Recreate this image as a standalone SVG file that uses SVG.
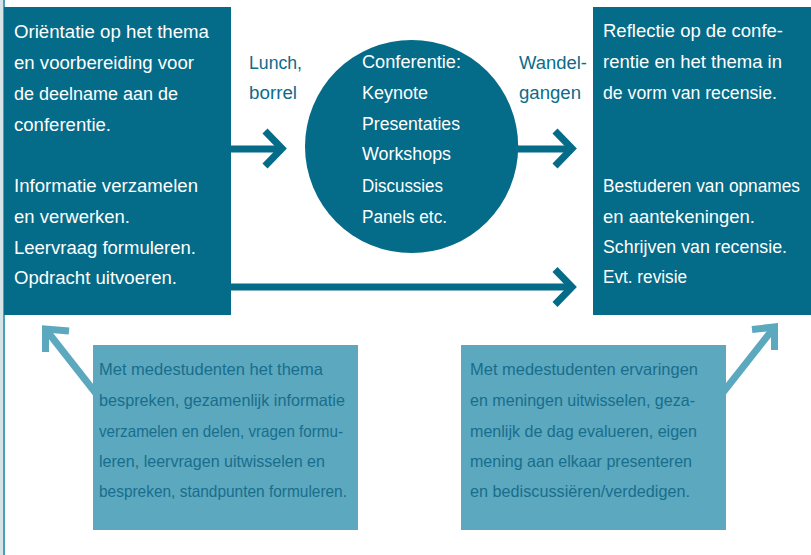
<svg xmlns="http://www.w3.org/2000/svg" width="811" height="555" viewBox="0 0 811 555">
<style>
.dark{fill:#046b88}
.light{fill:#5ca8bf}
.wt{font-family:"Liberation Sans",Arial,sans-serif;font-size:18.7px;fill:#ffffff}
.tt{font-family:"Liberation Sans",Arial,sans-serif;font-size:18.7px;fill:#0b6c8a}
.bt{font-family:"Liberation Sans",Arial,sans-serif;font-size:16.5px;fill:#186e8c}
.ad{fill:none;stroke:#046b88;stroke-width:7;stroke-linejoin:miter;stroke-miterlimit:10}
.al{fill:none;stroke:#5ca8bf;stroke-width:7;stroke-linejoin:miter;stroke-miterlimit:10}
</style>
<rect x="0" y="0" width="811" height="555" fill="#ffffff"/>
<rect x="0" y="0" width="3" height="555" fill="#d6e3e7"/>
<rect x="3" y="0" width="2" height="555" fill="#4c9fb8"/>

<g id="connectors">
  <path class="ad" d="M231 149 H283"/>
  <path class="ad" d="M265 131 L282 148.5 L265 166"/>
  <path class="ad" d="M517 149 H573"/>
  <path class="ad" d="M555 131 L572 148.5 L555 166"/>
  <path class="ad" d="M231 287 H573"/>
  <path class="ad" d="M555 269.5 L572 287 L555 304.5"/>
  <path class="al" d="M98 396 L47 331"/>
  <path class="al" d="M45.5 352 L45.5 329 L69 331"/>
  <path class="al" d="M721 395 L773 329"/>
  <path class="al" d="M752 329.5 L774.5 327 L774.5 350"/>
</g>

<g id="node-orientatie">
  <rect class="dark" x="4" y="7" width="227" height="308"/>
  <text class="wt" x="14" y="38" textLength="195" lengthAdjust="spacingAndGlyphs">Oriëntatie op het thema</text>
  <text class="wt" x="14" y="69" textLength="180" lengthAdjust="spacingAndGlyphs">en voorbereiding voor</text>
  <text class="wt" x="14" y="100" textLength="164" lengthAdjust="spacingAndGlyphs">de deelname aan de</text>
  <text class="wt" x="14" y="131" textLength="97" lengthAdjust="spacingAndGlyphs">conferentie.</text>
  <text class="wt" x="14" y="192" textLength="184" lengthAdjust="spacingAndGlyphs">Informatie verzamelen</text>
  <text class="wt" x="14" y="223" textLength="116" lengthAdjust="spacingAndGlyphs">en verwerken.</text>
  <text class="wt" x="14" y="254" textLength="182" lengthAdjust="spacingAndGlyphs">Leervraag formuleren.</text>
  <text class="wt" x="14" y="284" textLength="163" lengthAdjust="spacingAndGlyphs">Opdracht uitvoeren.</text>
</g>

<g id="label-lunch">
  <text class="tt" x="249" y="69" textLength="53" lengthAdjust="spacingAndGlyphs">Lunch,</text>
  <text class="tt" x="249" y="99" textLength="48" lengthAdjust="spacingAndGlyphs">borrel</text>
</g>

<g id="node-conferentie">
  <circle class="dark" cx="411.6" cy="146.5" r="106.6"/>
  <text class="wt" x="362" y="68" textLength="99" lengthAdjust="spacingAndGlyphs">Conferentie:</text>
  <text class="wt" x="362" y="99" textLength="66" lengthAdjust="spacingAndGlyphs">Keynote</text>
  <text class="wt" x="362" y="130" textLength="98" lengthAdjust="spacingAndGlyphs">Presentaties</text>
  <text class="wt" x="362" y="160" textLength="89" lengthAdjust="spacingAndGlyphs">Workshops</text>
  <text class="wt" x="362" y="192" textLength="81" lengthAdjust="spacingAndGlyphs">Discussies</text>
  <text class="wt" x="362" y="223" textLength="85" lengthAdjust="spacingAndGlyphs">Panels etc.</text>
</g>

<g id="label-wandelgangen">
  <text class="tt" x="519" y="69" textLength="68" lengthAdjust="spacingAndGlyphs">Wandel-</text>
  <text class="tt" x="519" y="99" textLength="62" lengthAdjust="spacingAndGlyphs">gangen</text>
</g>

<g id="node-reflectie">
  <rect class="dark" x="593" y="7" width="218" height="308"/>
  <text class="wt" x="603" y="37" textLength="180" lengthAdjust="spacingAndGlyphs">Reflectie op de confe-</text>
  <text class="wt" x="603" y="68" textLength="179" lengthAdjust="spacingAndGlyphs">rentie en het thema in</text>
  <text class="wt" x="603" y="99" textLength="174" lengthAdjust="spacingAndGlyphs">de vorm van recensie.</text>
  <text class="wt" x="603" y="192" textLength="197" lengthAdjust="spacingAndGlyphs">Bestuderen van opnames</text>
  <text class="wt" x="603" y="223" textLength="152" lengthAdjust="spacingAndGlyphs">en aantekeningen.</text>
  <text class="wt" x="603" y="253" textLength="184" lengthAdjust="spacingAndGlyphs">Schrijven van recensie.</text>
  <text class="wt" x="603" y="283" textLength="84" lengthAdjust="spacingAndGlyphs">Evt. revisie</text>
</g>

<g id="node-voorbereiding-samen">
  <rect class="light" x="93" y="345" width="265" height="185"/>
  <text class="bt" x="99" y="375" textLength="224" lengthAdjust="spacingAndGlyphs">Met medestudenten het thema</text>
  <text class="bt" x="99" y="406" textLength="246" lengthAdjust="spacingAndGlyphs">bespreken, gezamenlijk informatie</text>
  <text class="bt" x="99" y="437" textLength="244" lengthAdjust="spacingAndGlyphs">verzamelen en delen, vragen formu-</text>
  <text class="bt" x="99" y="467" textLength="226" lengthAdjust="spacingAndGlyphs">leren, leervragen uitwisselen en</text>
  <text class="bt" x="99" y="497" textLength="248" lengthAdjust="spacingAndGlyphs">bespreken, standpunten formuleren.</text>
</g>

<g id="node-reflectie-samen">
  <rect class="light" x="461" y="345" width="265" height="185"/>
  <text class="bt" x="470" y="375" textLength="228" lengthAdjust="spacingAndGlyphs">Met medestudenten ervaringen</text>
  <text class="bt" x="470" y="406" textLength="225" lengthAdjust="spacingAndGlyphs">en meningen uitwisselen, geza-</text>
  <text class="bt" x="470" y="437" textLength="227" lengthAdjust="spacingAndGlyphs">menlijk de dag evalueren, eigen</text>
  <text class="bt" x="470" y="467" textLength="222" lengthAdjust="spacingAndGlyphs">mening aan elkaar presenteren</text>
  <text class="bt" x="470" y="497" textLength="220" lengthAdjust="spacingAndGlyphs">en bediscussiëren/verdedigen.</text>
</g>
</svg>
